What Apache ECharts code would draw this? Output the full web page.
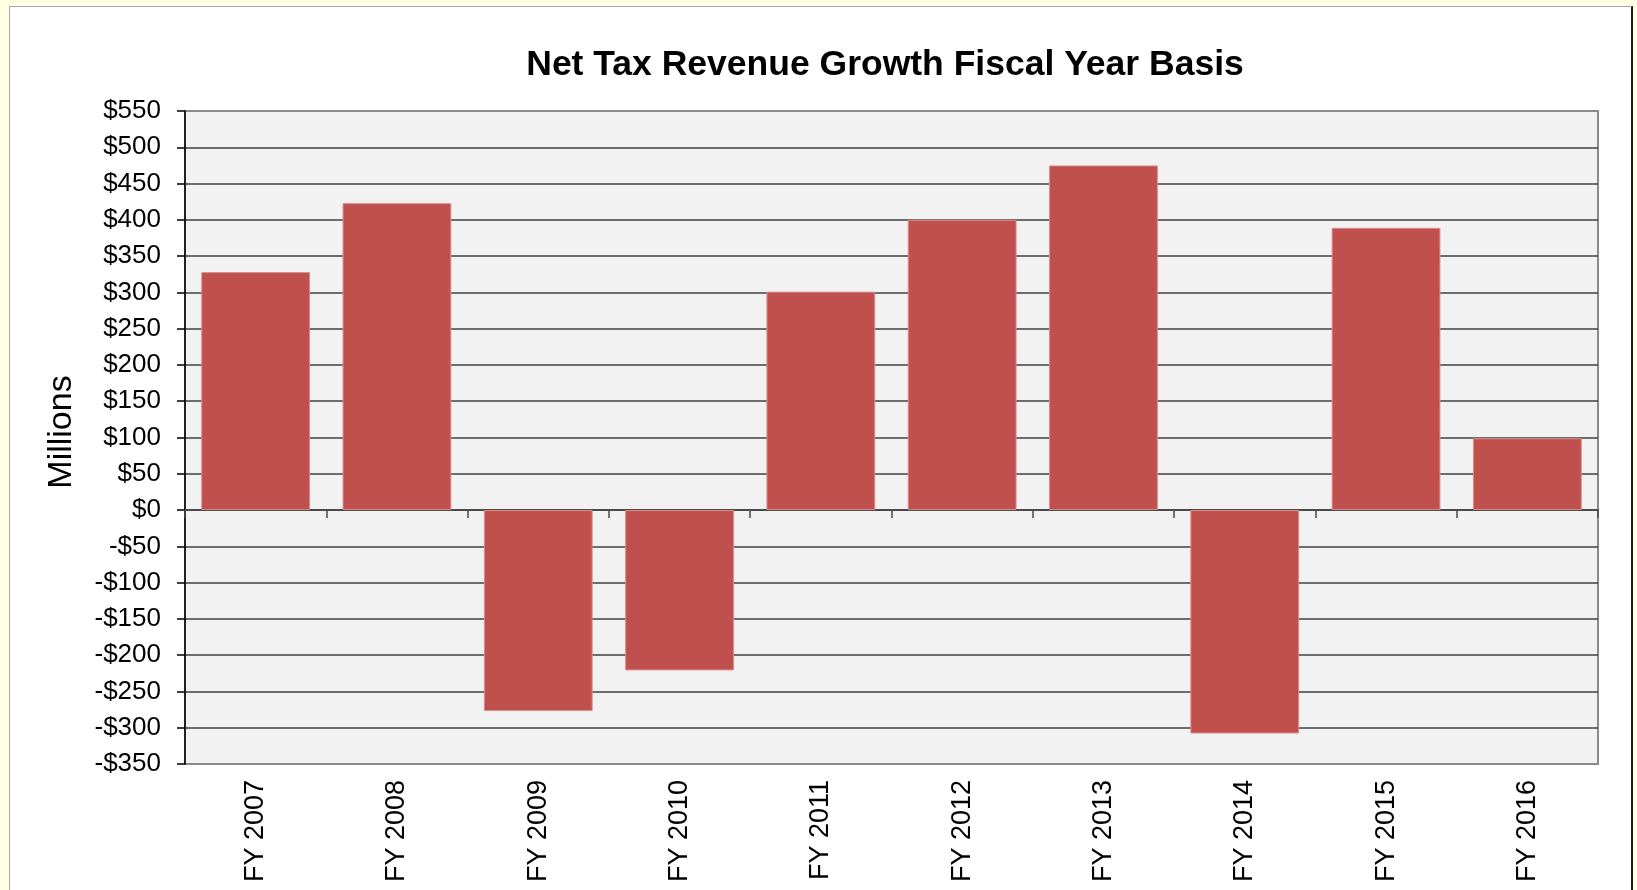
<!DOCTYPE html>
<html>
<head>
<meta charset="utf-8">
<title>Net Tax Revenue Growth Fiscal Year Basis</title>
<script src="https://cdn.jsdelivr.net/npm/echarts@6/dist/echarts.min.js"></script>
<style>
  html, body { margin: 0; padding: 0; background: #FFFFE3; }
  #panel {
    position: absolute; left: 9px; top: 6px; width: 1624px; height: 890px;
    background: #ffffff; border-left: 1px solid #a6a6a6; border-top: 1px solid #a6a6a6;
    border-right: 2px solid #1a1a1a; box-sizing: border-box;
  }
  #chart { position: absolute; left: 0; top: 0; width: 1637px; height: 890px; }
</style>
</head>
<body>
<div id="panel"></div>
<div id="chart"></div>
<script>
// Fiscal years shown along the bottom
const categories = ['FY 2007', 'FY 2008', 'FY 2009', 'FY 2010', 'FY 2011',
                    'FY 2012', 'FY 2013', 'FY 2014', 'FY 2015', 'FY 2016'];
// Net tax revenue growth per fiscal year, in millions of dollars
const growth = [328, 423, -277, -221, 301, 400, 475, -308, 389, 99];
// Value axis range and step, in millions
const yMin = -350;
const yMax = 550;
const yStep = 50;

const FONT = '"Liberation Sans", Arial, sans-serif';

function money(v) {
  return v < 0 ? '-$' + Math.abs(v) : '$' + v;
}

const chart = echarts.init(document.getElementById('chart'), null, { renderer: 'canvas' });

chart.setOption({
  backgroundColor: 'transparent',
  animation: false,
  textStyle: { fontFamily: FONT },
  graphic: [
    {
      type: 'text', x: 885, y: 65, z: 10,
      style: {
        text: 'Net Tax Revenue Growth Fiscal Year Basis',
        font: 'bold 35.5px ' + FONT, fill: '#000',
        align: 'center', verticalAlign: 'middle',
        textAlign: 'center', textVerticalAlign: 'middle'
      }
    },
    {
      type: 'text', x: 62, y: 432, rotation: Math.PI / 2, z: 10,
      style: {
        text: 'Millions',
        font: '34px ' + FONT, fill: '#000',
        align: 'center', verticalAlign: 'middle',
        textAlign: 'center', textVerticalAlign: 'middle'
      }
    }
  ],
  grid: {
    left: 185, top: 111, right: 39, bottom: 126,
    show: true, backgroundColor: '#F2F2F2',
    borderColor: '#8a8a8a', borderWidth: 2
  },
  xAxis: [
    {
      // category labels along the bottom edge
      type: 'category', data: categories, position: 'bottom',
      axisLine: { show: false, onZero: false },
      axisTick: { show: false },
      splitLine: { show: false },
      axisLabel: { rotate: 90, margin: 16, fontSize: 27, color: '#000', fontFamily: FONT }
    },
    {
      // baseline at zero with downward ticks between categories
      type: 'category', data: categories, position: 'top',
      axisLine: { show: true, onZero: true, lineStyle: { color: '#4a4a4a', width: 2 } },
      axisTick: { show: true, inside: true, length: 8, lineStyle: { color: '#4a4a4a', width: 1.5 } },
      axisLabel: { show: false },
      splitLine: { show: false }
    }
  ],
  yAxis: {
    type: 'value', min: yMin, max: yMax, interval: yStep,
    axisLine: { show: true, onZero: false, lineStyle: { color: '#000', width: 1.5 } },
    axisTick: { show: true, length: 8, lineStyle: { color: '#000', width: 1.5 } },
    axisLabel: { formatter: money, fontSize: 26, color: '#000', margin: 24, fontFamily: FONT },
    splitLine: {
      show: true, showMinLine: false, showMaxLine: false,
      lineStyle: { color: '#404040', width: 1.6 }
    }
  },
  series: [
    {
      type: 'bar', data: growth, xAxisIndex: 0, yAxisIndex: 0,
      barCategoryGap: '23%',
      itemStyle: { color: '#C0504D', borderColor: '#D88E8B', borderWidth: 1 },
      z: 3
    }
  ]
});
</script>
</body>
</html>
